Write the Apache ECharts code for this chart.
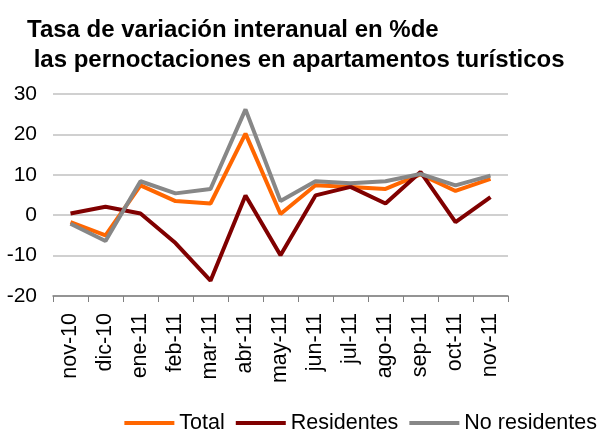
<!DOCTYPE html>
<html lang="es">
<head>
  <meta charset="UTF-8">
  <title>Pernoctaciones en apartamentos turísticos</title>
  <script src="https://cdn.jsdelivr.net/npm/echarts@6/dist/echarts.min.js"></script>
  <style>
    body { margin: 0; background: #fff; }
    #chart { width: 599px; height: 430px; }
  </style>
</head>
<body>
<div id="chart"></div>
<script>
// meses
const months = ['nov-10', 'dic-10', 'ene-11', 'feb-11', 'mar-11', 'abr-11', 'may-11',
                'jun-11', 'jul-11', 'ago-11', 'sep-11', 'oct-11', 'nov-11'];
// tasas de variación (%)
const total        = [-1.7, -5.0, 7.4, 3.5, 2.9, 20.2, 0.3, 7.4, 7.0, 6.5, 10.1, 6.0, 9.0];
const residentes   = [0.4, 2.1, 0.4, -6.9, -16.2, 4.9, -9.9, 4.9, 7.0, 2.9, 10.7, -1.7, 4.5];
const noResidentes = [-2.1, -6.4, 8.4, 5.4, 6.5, 26.2, 3.5, 8.4, 7.9, 8.4, 10.2, 7.4, 9.8];
const yTicks = { min: -20, max: 30, interval: 10 };

const font = 'Liberation Sans, Arial, sans-serif';
let chart = echarts.init(document.getElementById('chart'));

function line(name, data, color) {
  return {
    name: name, type: 'line', data: data,
    symbol: 'none',
    lineStyle: { color: color, width: 4 },
    itemStyle: { color: color }
  };
}

chart.setOption({
  animation: false,
  title: {
    text: 'Tasa de variación interanual en %de\n las pernoctaciones en apartamentos turísticos',
    left: 22, top: 10,
    textStyle: { fontFamily: font, fontSize: 24, fontWeight: 'bold', color: '#000', lineHeight: 30 }
  },
  grid: { left: 53, right: 91, top: 94, bottom: 134, containLabel: false },
  legend: {
    bottom: -9, right: -3,
    itemWidth: 50, itemHeight: 4, itemGap: 11,
    icon: 'rect',
    textStyle: { fontFamily: font, fontSize: 21.5, color: '#000' },
    data: ['Total', 'Residentes', 'No residentes']
  },
  xAxis: {
    type: 'category', data: months, boundaryGap: true,
    axisLine: { onZero: false, lineStyle: { color: '#808080', width: 1.5 } },
    axisTick: { show: true, length: 6, alignWithLabel: false, lineStyle: { color: '#808080' } },
    axisLabel: { rotate: 90, margin: 17, fontFamily: font, fontSize: 21.5, color: '#000', interval: 0 }
  },
  yAxis: {
    type: 'value', min: yTicks.min, max: yTicks.max, interval: yTicks.interval,
    axisLine: { show: false },
    axisTick: { show: false },
    axisLabel: { margin: 16, fontFamily: font, fontSize: 21, color: '#000' },
    splitLine: { lineStyle: { color: '#c0c0c0', width: 1.5 } }
  },
  series: [
    line('Total', total, '#ff6600'),
    line('Residentes', residentes, '#800000'),
    line('No residentes', noResidentes, '#878787')
  ]
});
</script>
</body>
</html>
